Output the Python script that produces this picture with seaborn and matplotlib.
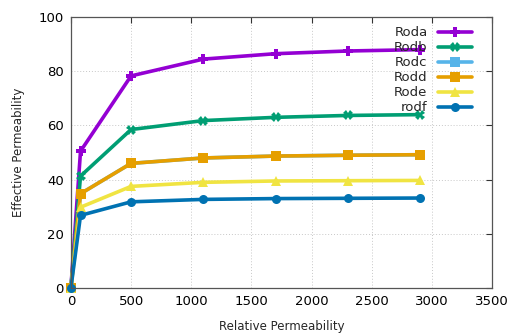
import matplotlib
matplotlib.use("Agg")
import matplotlib.pyplot as plt
import seaborn as sns
import pandas as pd

relative = [0, 80, 500, 1100, 1700, 2300, 2900]
roda = [0, 50.5, 78.3, 84.5, 86.5, 87.5, 88.0]
rodb = [0, 41.3, 58.5, 61.8, 63.0, 63.7, 64.0]
rodc = [0, 34.8, 46.0, 48.0, 48.7, 49.0, 49.2]
rodd = [0, 34.8, 46.0, 48.0, 48.7, 49.0, 49.2]
rode = [0, 29.8, 37.5, 39.0, 39.5, 39.6, 39.7]
rodf = [0, 26.8, 31.8, 32.7, 33.0, 33.1, 33.2]
names = ["Roda", "Rodb", "Rodc", "Rodd", "Rode", "rodf"]
series = [roda, rodb, rodc, rodd, rode, rodf]
colors = ["#9400d3", "#009e73", "#56b4e9", "#e69f00", "#f0e442", "#0072b2"]
markers = ["P", "X", "s", "s", "^", "o"]

rows = []
for n, vals in zip(names, series):
    for x, y in zip(relative, vals):
        rows.append({"Relative Permeability": x, "Effective Permeability": y, "rod": n})
df = pd.DataFrame(rows)

sns.set_style("white")
plt.rcParams["font.family"] = ["DejaVu Sans"]

fig = plt.figure(figsize=(5.1, 3.36), dpi=100)
ax = fig.add_axes([0.139, 0.143, 0.826, 0.806])
sns.lineplot(data=df, x="Relative Permeability", y="Effective Permeability",
             hue="rod", style="rod", palette=dict(zip(names, colors)),
             markers=dict(zip(names, markers)), dashes=False,
             linewidth=2.6, markersize=6.5, markeredgewidth=0, ax=ax)
for ln in ax.get_lines():
    ln.set_clip_on(False)

ax.set_xlim(0, 3500)
ax.set_ylim(0, 100)
ax.set_xticks(range(0, 3501, 500))
ax.set_yticks(range(0, 101, 20))
ax.grid(True, color="#c8c8c8", linestyle=(0, (1, 2)), linewidth=0.7)
ax.tick_params(direction="in", length=4, top=True, right=True, labelsize=9.5,
               colors="#333333", labelcolor="black", pad=5)
for s in ax.spines.values():
    s.set_color("#555555")
    s.set_linewidth(0.9)
ax.set_xlabel("Relative Permeability", fontsize=8.5, labelpad=9)
ax.set_ylabel("Effective Permeability", fontsize=8.5, labelpad=10)

# markerfirst=False puts labels left of the samples, right-aligned
handles, labels = ax.get_legend_handles_labels()
ax.legend(handles, labels, loc="upper right", frameon=False, markerfirst=False,
          fontsize=9.5, handlelength=2.6, labelspacing=0.15,
          borderaxespad=0.3, bbox_to_anchor=(0.975, 1.0))

fig.savefig("out.png", dpi=100)
